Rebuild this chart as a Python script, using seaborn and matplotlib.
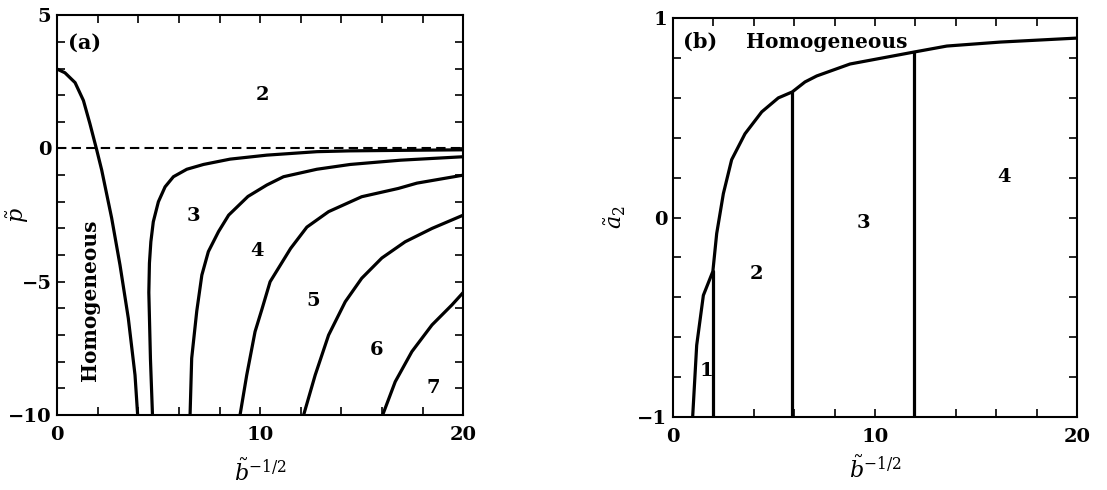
import matplotlib
matplotlib.use("Agg")
import matplotlib.pyplot as plt
from matplotlib.ticker import MultipleLocator
import pandas as pd
import seaborn as sns

# ---------------- panel (a): phase boundaries in the (b^-1/2, p) plane ----------------
a_hom_x = [0.0, 0.39, 0.89, 1.30, 1.62, 1.95, 2.20, 2.69, 3.10, 3.51, 3.84, 3.97]
a_hom_y = [2.98, 2.84, 2.47, 1.80, 0.93, -0.04, -0.81, -2.61, -4.37, -6.37, -8.5, -10.0]

a_23_x = [4.70, 4.60, 4.52, 4.55, 4.62, 4.74, 4.99, 5.32, 5.73, 6.39, 7.21, 8.52,
          10.33, 12.8, 14.4, 17.0, 20.0]
a_23_y = [-10.0, -7.9, -5.4, -4.3, -3.5, -2.75, -2.0, -1.44, -1.06, -0.78, -0.60, -0.40,
          -0.25, -0.12, -0.09, -0.07, -0.05]

a_34_x = [6.55, 6.63, 6.88, 7.13, 7.45, 7.95, 8.45, 9.40, 10.33, 11.15, 12.79, 14.43, 16.9, 20.0]
a_34_y = [-10.0, -7.87, -6.1, -4.75, -3.87, -3.12, -2.5, -1.8, -1.37, -1.06, -0.78, -0.60, -0.44, -0.31]

a_45_x = [9.01, 9.34, 9.75, 10.1, 10.49, 11.5, 12.3, 13.37, 15.0, 16.8, 17.72, 20.0]
a_45_y = [-10.0, -8.5, -6.87, -6.0, -5.0, -3.75, -2.95, -2.37, -1.81, -1.5, -1.3, -1.0]

a_56_x = [12.14, 12.71, 13.37, 14.19, 15.0, 15.99, 17.14, 18.46, 20.0]
a_56_y = [-10.0, -8.5, -7.0, -5.75, -4.87, -4.11, -3.5, -3.0, -2.5]

a_67_x = [16.03, 16.65, 17.47, 18.46, 19.44, 20.0]
a_67_y = [-10.0, -8.75, -7.62, -6.62, -5.87, -5.4]

a_region_text = ["2", "3", "4", "5", "6", "7"]
a_region_x = [10.1, 6.7, 9.85, 12.6, 15.75, 18.5]
a_region_y = [2.0, -2.55, -3.86, -5.74, -7.57, -9.0]

# ---------------- panel (b): phase boundaries in the (b^-1/2, a2) plane ----------------
b_hom_x = [0.97, 1.17, 1.50, 1.97, 2.16, 2.49, 2.90, 3.56, 4.39, 5.21, 5.90,
           6.53, 7.11, 8.76, 11.93, 13.55, 16.2, 20.0]
b_hom_y = [-1.0, -0.64, -0.39, -0.27, -0.08, 0.12, 0.29, 0.42, 0.53, 0.60, 0.63,
           0.68, 0.71, 0.77, 0.83, 0.86, 0.88, 0.90]

b_vert_x = [1.97, 5.90, 11.93]
b_vert_top = [-0.27, 0.63, 0.83]
b_bottom = -1.0

b_region_text = ["1", "2", "3", "4"]
b_region_x = [1.63, 4.15, 9.4, 16.4]
b_region_y = [-0.77, -0.285, -0.025, 0.205]

# ---------------- style ----------------
sns.set_theme(style="ticks")
plt.rcParams["font.family"] = ["DejaVu Serif"]
plt.rcParams["mathtext.fontset"] = "dejavuserif"
plt.rcParams["axes.linewidth"] = 1.5
plt.rcParams["axes.edgecolor"] = "black"
plt.rcParams["text.color"] = "black"
plt.rcParams["axes.labelcolor"] = "black"
plt.rcParams["xtick.color"] = "black"
plt.rcParams["ytick.color"] = "black"

LW = 2.3
TXT = dict(fontsize=14, fontweight="bold", ha="center", va="center", color="black")


def frame(ax):
    ax.tick_params(which="both", direction="in", top=True, right=True,
                   color="black", width=1.2, length=6)
    ax.tick_params(axis="x", which="major", labelsize=14, pad=8)
    ax.tick_params(axis="y", which="major", labelsize=14, pad=4)
    for lab in ax.get_xticklabels() + ax.get_yticklabels():
        lab.set_fontweight("bold")


def boundaries(ax, curves):
    frames = []
    for k, (xs, ys) in enumerate(curves):
        frames.append(pd.DataFrame({"x": xs, "y": ys, "curve": k}))
    df = pd.concat(frames, ignore_index=True)
    sns.lineplot(data=df, x="x", y="y", units="curve", estimator=None,
                 sort=False, color="black", linewidth=LW, ax=ax, legend=False)


fig = plt.figure(figsize=(11.07, 4.90), dpi=100)
ax_a = fig.add_axes([0.0515, 0.153, 0.367, 0.816])
ax_b = fig.add_axes([0.608, 0.149, 0.365, 0.814])

# panel (a)
ax_a.axhline(0, color="black", linewidth=1.5, linestyle=(0, (4.5, 2.5)))
boundaries(ax_a, [(a_hom_x, a_hom_y), (a_23_x, a_23_y), (a_34_x, a_34_y),
                  (a_45_x, a_45_y), (a_56_x, a_56_y), (a_67_x, a_67_y)])
ax_a.set_xlim(0, 20)
ax_a.set_ylim(-10, 5)
ax_a.xaxis.set_major_locator(MultipleLocator(10))
ax_a.xaxis.set_minor_locator(MultipleLocator(2))
ax_a.yaxis.set_major_locator(MultipleLocator(5))
ax_a.yaxis.set_minor_locator(MultipleLocator(1))
frame(ax_a)
for t, x, y in zip(a_region_text, a_region_x, a_region_y):
    ax_a.text(x, y, t, **TXT)
ax_a.text(1.38, 3.96, "(a)", fontsize=15, fontweight="bold", ha="center", va="center")
ax_a.text(1.63, -5.69, "Homogeneous", rotation=90, fontsize=14.5, fontweight="bold",
          ha="center", va="center")
ax_a.set_xlabel(r"$\tilde{b}^{-1/2}$", fontsize=16)
ax_a.set_ylabel(r"$\tilde{p}$", fontsize=16)
ax_a.xaxis.label.set_va("center")
ax_a.xaxis.set_label_coords(0.5, -0.145)
ax_a.yaxis.label.set_va("center")
ax_a.yaxis.set_label_coords(-0.096, 0.5)

# panel (b)
vert = [([x, x], [b_bottom, top]) for x, top in zip(b_vert_x, b_vert_top)]
boundaries(ax_b, [(b_hom_x, b_hom_y)] + vert)
ax_b.set_xlim(0, 20)
ax_b.set_ylim(-1, 1)
ax_b.xaxis.set_major_locator(MultipleLocator(10))
ax_b.xaxis.set_minor_locator(MultipleLocator(2))
ax_b.yaxis.set_major_locator(MultipleLocator(1))
ax_b.yaxis.set_minor_locator(MultipleLocator(0.2))
frame(ax_b)
for t, x, y in zip(b_region_text, b_region_x, b_region_y):
    ax_b.text(x, y, t, **TXT)
ax_b.text(1.34, 0.88, "(b)", fontsize=15, fontweight="bold", ha="center", va="center")
ax_b.text(7.6, 0.88, "Homogeneous", fontsize=14.5, fontweight="bold",
          ha="center", va="center")
ax_b.set_xlabel(r"$\tilde{b}^{-1/2}$", fontsize=16)
ax_b.set_ylabel(r"$\tilde{a}_2$", fontsize=16)
ax_b.xaxis.label.set_va("center")
ax_b.xaxis.set_label_coords(0.5, -0.133)
ax_b.yaxis.label.set_va("center")
ax_b.yaxis.set_label_coords(-0.144, 0.5)

fig.savefig("out.png", dpi=100)
